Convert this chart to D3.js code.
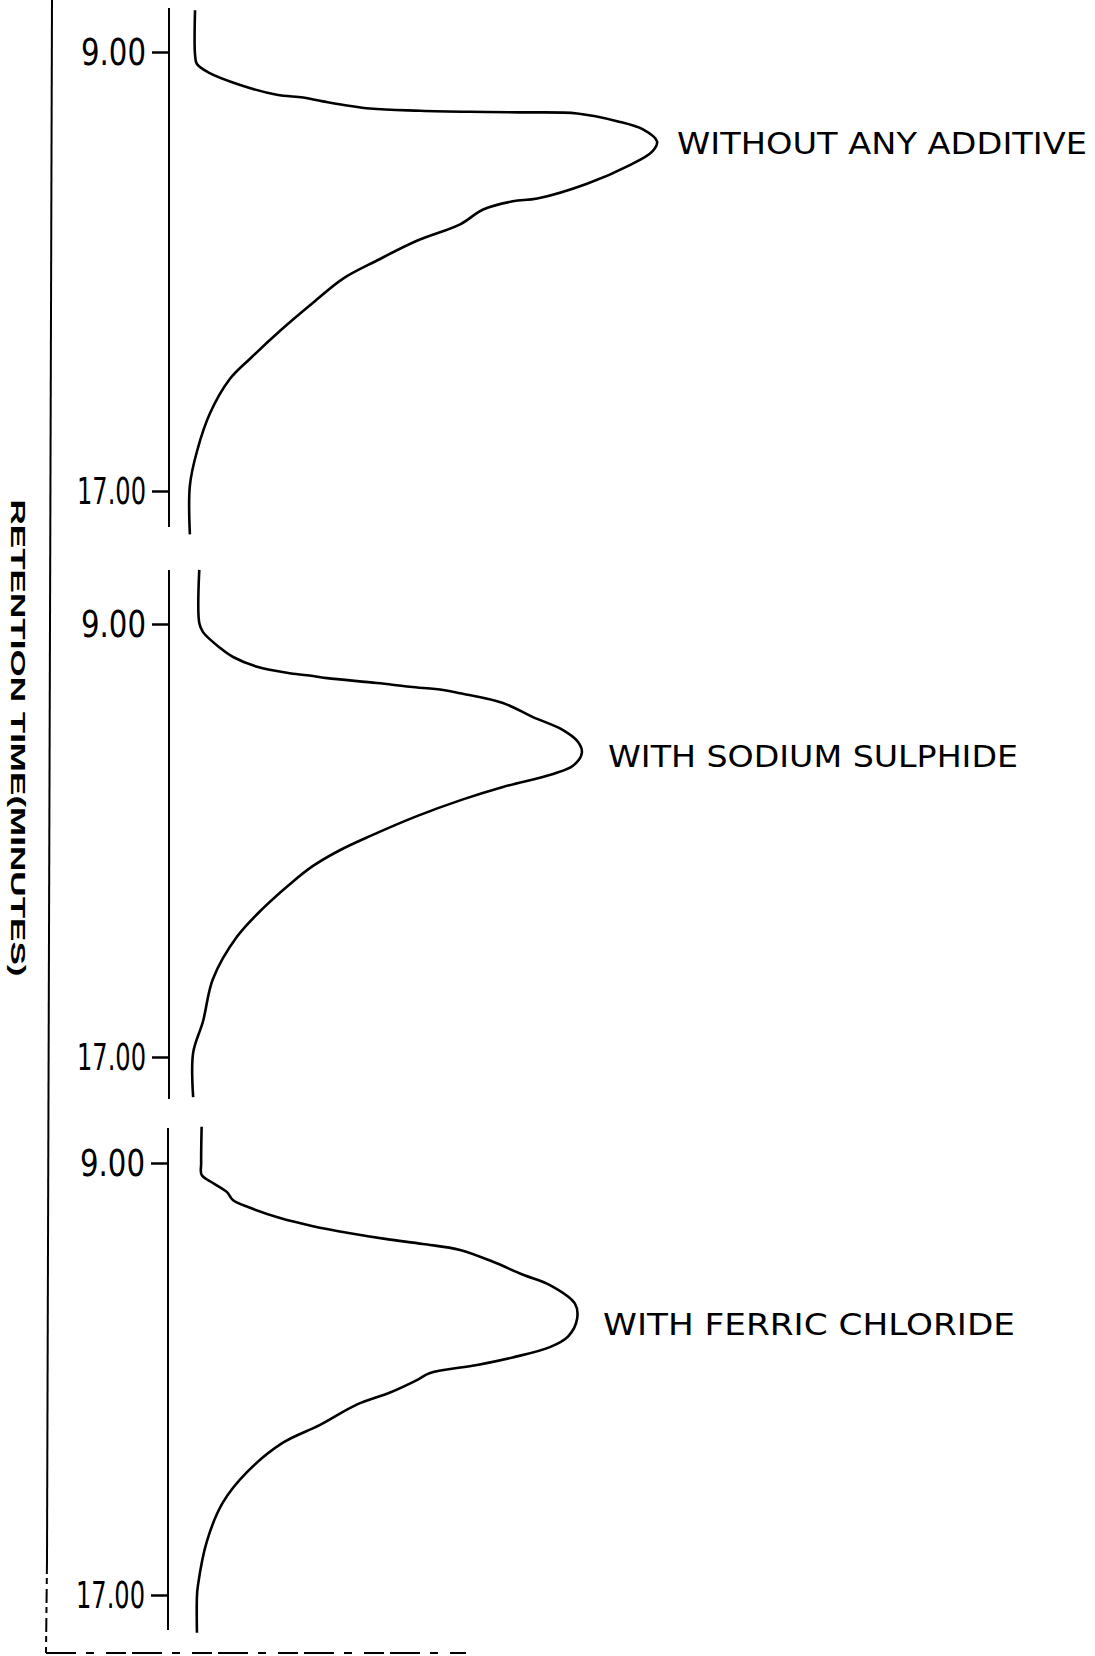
<!DOCTYPE html>
<html>
<head>
<meta charset="utf-8">
<script src="https://cdn.jsdelivr.net/npm/d3@7"></script>
<style>
  body { margin: 0; background: #fff; overflow: hidden; }
</style>
</head>
<body>
<script>
// values: retention time (min) and detector signal (% of full width)
const panelNames = ['WITHOUT ANY ADDITIVE', 'WITH SODIUM SULPHIDE', 'WITH FERRIC CHLORIDE']
const tickMinutes = [9, 17]

const plainTime = [8.24, 9.05, 9.22, 9.37, 9.60, 9.78, 9.83, 9.90, 10.03, 10.07, 10.09, 10.10, 10.12, 10.26, 10.41, 10.63,
    10.82, 11.06, 11.40, 11.67, 11.72, 11.87, 12.14, 12.44, 12.80, 13.13, 13.57, 14.08, 14.59, 14.96, 15.58, 16.28, 16.90, 17.79]
const plainSignal = [1.5, 1.5, 1.9, 4.3, 11.1, 18.9, 24.5, 28.7, 38.7, 49.4, 60.0, 70.6, 82.8, 91.3, 96.8, 99.8,
    98.7, 94.0, 84.9, 74.3, 69.1, 62.8, 57.9, 48.7, 40.2, 33.0, 26.6, 19.6, 13.2, 8.9, 4.7, 1.9, 0.4, 0.4]

const sulphideTime = [8.00, 8.98, 9.15, 9.44, 9.61, 9.79, 9.91, 9.96, 10.00, 10.09, 10.16, 10.22, 10.28, 10.46, 10.72,
    10.96, 11.18, 11.38, 11.62, 11.77, 12.01, 12.24, 12.55, 12.92, 13.18, 13.47, 13.76, 14.25, 14.78, 15.56, 16.34, 16.92, 17.74]
const sulphideSignal = [2.4, 2.4, 3.2, 6.8, 9.6, 14.7, 21.7, 26.6, 29.6, 40.2, 47.2, 54.3, 57.9, 67.0, 73.4,
    79.8, 83.0, 83.8, 81.9, 77.7, 67.0, 58.5, 48.7, 38.7, 32.3, 26.6, 22.3, 16.0, 10.4, 5.3, 3.2, 1.1, 1.1]

const ferricTime = [8.33, 9.00, 9.22, 9.37, 9.54, 9.69, 9.83, 10.02, 10.17, 10.30, 10.41, 10.50, 10.61, 10.83, 11.07,
    11.26, 11.60, 11.88, 12.21, 12.41, 12.60, 12.74, 12.89, 13.02, 13.25, 13.47, 13.85, 14.18, 14.72, 15.29, 16.01, 16.83, 17.03, 17.70]
const ferricSignal = [2.9, 2.8, 2.9, 5.3, 8.3, 9.6, 13.2, 19.6, 26.6, 34.5, 42.3, 50.0, 57.9, 64.9, 71.3,
    77.0, 82.3, 82.8, 80.9, 77.0, 69.1, 61.5, 51.5, 48.7, 43.0, 36.0, 28.1, 20.2, 12.6, 7.4, 4.0, 2.1, 1.9, 1.9]

const width = 1095
const height = 1656

// where each strip sits on the page
const panels = [
    { name: panelNames[0], time: plainTime, signal: plainSignal, y9: 52, y17: 491, top: 8, bottom: 527, axisX: 169, labelX: 677, labelY: 154, labelW: 410 },
    { name: panelNames[1], time: sulphideTime, signal: sulphideSignal, y9: 624, y17: 1057, top: 570, bottom: 1099, axisX: 169, labelX: 608, labelY: 767, labelW: 410 },
    { name: panelNames[2], time: ferricTime, signal: ferricSignal, y9: 1163, y17: 1595, top: 1128, bottom: 1630, axisX: 168, labelX: 603, labelY: 1335, labelW: 412 }
]

const x = d3.scaleLinear().domain([0, 100]).range([188, 658])
const tickFont = '"Liberation Sans Narrow", "DejaVu Sans Condensed", "Liberation Sans", sans-serif'
const labelFont = '"DejaVu Sans", "Liberation Sans", sans-serif'

const svg = d3.select('body').append('svg')
    .attr('width', width)
    .attr('height', height)
    .style('background-color', '#fff')

// outer frame: left rule and the broken base line
svg.append('line')
    .attr('x1', 52).attr('y1', 0)
    .attr('x2', 47).attr('y2', 1560)
    .attr('stroke', '#000').attr('stroke-width', 2)
svg.append('line')
    .attr('x1', 47).attr('y1', 1560)
    .attr('x2', 46).attr('y2', 1653)
    .attr('stroke', '#000').attr('stroke-width', 2)
    .attr('stroke-dasharray', '14,4,6,5')
svg.append('line')
    .attr('x1', 46).attr('y1', 1653)
    .attr('x2', 466).attr('y2', 1653)
    .attr('stroke', '#000').attr('stroke-width', 2)
    .attr('stroke-dasharray', '30,10,8,12,20,6')

svg.append('text')
    .attr('transform', 'translate(19,738) rotate(90)')
    .attr('text-anchor', 'middle')
    .attr('dy', '0.36em')
    .attr('textLength', 477)
    .attr('lengthAdjust', 'spacingAndGlyphs')
    .style('font-family', '"Liberation Sans", Arial, sans-serif')
    .style('font-weight', 'bold')
    .style('font-size', '21px')
    .text('RETENTION TIME(MINUTES)')

panels.forEach(p => {
    const y = d3.scaleLinear().domain([9, 17]).range([p.y9, p.y17])
    const pts = p.time.map((t, i) => [t, p.signal[i]])

    const g = svg.append('g')

    g.append('line')
        .attr('x1', p.axisX).attr('x2', p.axisX)
        .attr('y1', p.top).attr('y2', p.bottom)
        .attr('stroke', '#000').attr('stroke-width', 2)

    const ax = g.append('g')
        .attr('transform', `translate(${p.axisX},0)`)
        .call(d3.axisLeft(y)
            .tickValues(tickMinutes)
            .tickFormat(d3.format('.2f'))
            .tickSize(17)
            .tickPadding(6))
    ax.select('.domain').remove()
    ax.selectAll('line').attr('stroke', '#000').attr('stroke-width', 2.5)
    ax.selectAll('text')
        .attr('fill', '#000')
        .attr('textLength', d => d === 9 ? 65 : 69)
        .attr('lengthAdjust', 'spacingAndGlyphs')
        .style('font-family', tickFont)
        .style('font-size', '38px')

    g.append('path')
        .datum(pts)
        .attr('fill', 'none')
        .attr('stroke', '#000')
        .attr('stroke-width', 2.6)
        .attr('stroke-linejoin', 'round')
        .attr('d', d3.line()
            .x(d => x(d[1]))
            .y(d => y(d[0]))
            .curve(d3.curveCatmullRom.alpha(0.5)))

    g.append('text')
        .attr('x', p.labelX)
        .attr('y', p.labelY)
        .attr('textLength', p.labelW)
        .attr('lengthAdjust', 'spacingAndGlyphs')
        .style('font-family', labelFont)
        .style('font-size', '31px')
        .text(p.name)
})
</script>
</body>
</html>
